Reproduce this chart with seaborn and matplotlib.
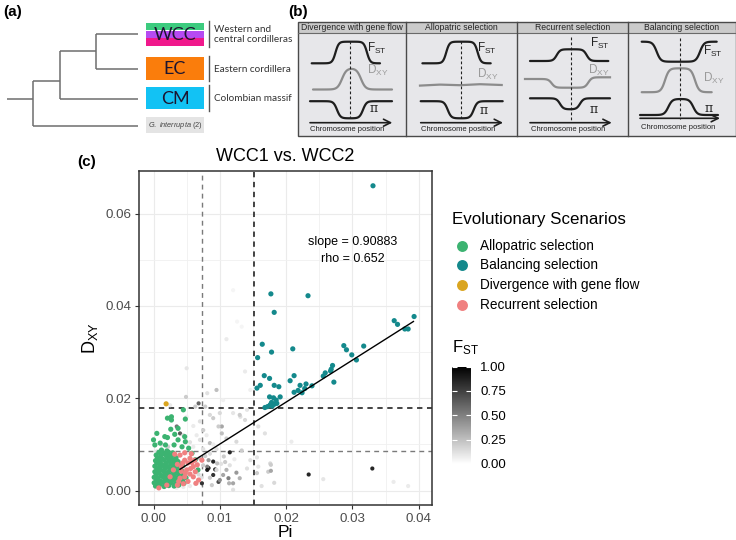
import numpy as np
import pandas as pd
import matplotlib
matplotlib.use("Agg")
import matplotlib.pyplot as plt
from matplotlib.colors import LinearSegmentedColormap, Normalize
from matplotlib.patches import Rectangle
from matplotlib.cm import ScalarMappable
import seaborn as sns

plt.rcParams['font.family'] = ['Liberation Sans', 'DejaVu Sans']
plt.rcParams['mathtext.fontset'] = 'custom'
plt.rcParams['mathtext.rm'] = 'Liberation Sans'
plt.rcParams['mathtext.it'] = 'Liberation Sans:italic'

# ---------------- data (panel c) ----------------
allo_pi = [0.0003, 0.0009, 0.0016, 0.0023, 0.0031, 0.0038,
           0.0001, 0.0007, 0.0013, 0.0019, 0.0026, 0.0033, 0.0040, 0.0046,
           0.0004, 0.0010, 0.0017, 0.0024, 0.0030, 0.0037, 0.0044,
           0.0001, 0.0007, 0.0014, 0.0020, 0.0027, 0.0034, 0.0041, 0.0049,
           0.0004, 0.0011, 0.0017, 0.0024, 0.0031, 0.0038, 0.0045,
           0.0002, 0.0008, 0.0015, 0.0022, 0.0029, 0.0036, 0.0043,
           0.0005, 0.0011, 0.0018, 0.0025, 0.0032, 0.0039,
           0.0002, 0.0009, 0.0015, 0.0022, 0.0029, 0.0036, 0.0044,
           0.0005, 0.0012, 0.0019, 0.0026, 0.0033, 0.0040,
           0.0003, 0.0009, 0.0016, 0.0023, 0.0030, 0.0037,
           0.0006, 0.0013, 0.0020, 0.0027, 0.0034,
           0.0004, 0.0011, 0.0018, 0.0025, 0.0032,
           0.0008, 0.0015, 0.0022, 0.0029,
           0.0012, 0.0020,
           0.0045, 0.0021, 0.0027, 0.0027, 0.0048, 0.0026, 0.0037, 0.0005,
           0.0017, 0.0021, 0.0032, 0.0047, 0.0037, 0.0048, 0.0000, 0.0010,
           0.0018, 0.0031, 0.0002, 0.0043, 0.0063, 0.0067, 0.0053, 0.0058]
allo_dxy = [0.0010, 0.0012, 0.0009, 0.0011, 0.0010, 0.0012,
            0.0017, 0.0015, 0.0018, 0.0016, 0.0017, 0.0015, 0.0018, 0.0016,
            0.0023, 0.0021, 0.0024, 0.0022, 0.0023, 0.0021, 0.0024,
            0.0029, 0.0027, 0.0030, 0.0028, 0.0029, 0.0027, 0.0030, 0.0028,
            0.0035, 0.0033, 0.0036, 0.0034, 0.0035, 0.0033, 0.0036,
            0.0041, 0.0039, 0.0042, 0.0040, 0.0041, 0.0039, 0.0042,
            0.0047, 0.0045, 0.0048, 0.0046, 0.0047, 0.0045,
            0.0053, 0.0051, 0.0054, 0.0052, 0.0053, 0.0051, 0.0054,
            0.0059, 0.0057, 0.0060, 0.0058, 0.0059, 0.0057,
            0.0065, 0.0063, 0.0066, 0.0064, 0.0065, 0.0063,
            0.0071, 0.0069, 0.0072, 0.0070, 0.0071,
            0.0077, 0.0075, 0.0078, 0.0076, 0.0077,
            0.0083, 0.0081, 0.0084, 0.0082,
            0.0088, 0.0086,
            0.0175, 0.0157, 0.0160, 0.0153, 0.0155, 0.0133, 0.0135, 0.0124,
            0.0117, 0.0115, 0.0122, 0.0117, 0.0110, 0.0106, 0.0110, 0.0103,
            0.0099, 0.0099, 0.0099, 0.0095, 0.0067, 0.0045, 0.0092, 0.0081]

recur_pi = [0.0032, 0.0040, 0.0047, 0.0055, 0.0047, 0.0058, 0.0042, 0.0050, 0.0030,
            0.0025, 0.0020, 0.0040, 0.0047, 0.0063, 0.0068, 0.0073, 0.0052, 0.0044,
            0.0060, 0.0066, 0.0055, 0.0060, 0.0052, 0.0045, 0.0036, 0.0008, 0.0057,
            0.0036, 0.0062, 0.0048, 0.0042, 0.0056, 0.0064, 0.0038]
recur_dxy = [0.0079, 0.0077, 0.0082, 0.0070, 0.0066, 0.0061, 0.0052, 0.0045, 0.0045,
             0.0030, 0.0012, 0.0027, 0.0030, 0.0041, 0.0023, 0.0066, 0.0060, 0.0060,
             0.0052, 0.0056, 0.0036, 0.0030, 0.0020, 0.0015, 0.0012, 0.0006, 0.0080,
             0.0057, 0.0066, 0.0038, 0.0042, 0.0048, 0.0016, 0.0020]

bal_pi = [0.0331, 0.0177, 0.0233, 0.0182, 0.0363, 0.0368, 0.0393, 0.0379, 0.0384,
          0.0164, 0.0178, 0.0210, 0.0157, 0.0287, 0.0291, 0.0317, 0.0299, 0.0306,
          0.0167, 0.0175, 0.0212, 0.0206, 0.0161, 0.0156, 0.0182, 0.0189, 0.0221,
          0.0230, 0.0239, 0.0212, 0.0218, 0.0224, 0.0228, 0.0256, 0.0259, 0.0267,
          0.0270, 0.0272, 0.0268, 0.0175, 0.0181, 0.0191, 0.0168, 0.0176, 0.0179,
          0.0182, 0.0186, 0.0172, 0.0185, 0.0178]
bal_dxy = [0.0660, 0.0426, 0.0422, 0.0386, 0.0368, 0.0360, 0.0377, 0.0350, 0.0350,
           0.0317, 0.0300, 0.0307, 0.0288, 0.0314, 0.0305, 0.0313, 0.0294, 0.0283,
           0.0249, 0.0243, 0.0249, 0.0238, 0.0228, 0.0222, 0.0228, 0.0225, 0.0228,
           0.0231, 0.0227, 0.0213, 0.0217, 0.0212, 0.0221, 0.0248, 0.0255, 0.0259,
           0.0271, 0.0235, 0.0263, 0.0203, 0.0201, 0.0203, 0.0180, 0.0186, 0.0183,
           0.0187, 0.0189, 0.0182, 0.0196, 0.0191]

div_pi = [0.0019]
div_dxy = [0.0188]

grey_pi = [0.0050, 0.0110, 0.0138, 0.0049, 0.0095, 0.0081, 0.0068, 0.0063, 0.0100, 0.0120,
           0.0131, 0.0141, 0.0090, 0.0103, 0.0075, 0.0035, 0.0040, 0.0115, 0.0133, 0.0156,
           0.0176, 0.0173, 0.0156, 0.0158, 0.0234, 0.0256, 0.0330, 0.0362, 0.0384, 0.0083,
           0.0090, 0.0098, 0.0113, 0.0120, 0.0110, 0.0125, 0.0073, 0.0081, 0.0096, 0.0106,
           0.0090, 0.0083, 0.0081, 0.0093, 0.0105, 0.0100, 0.0114, 0.0130, 0.0120, 0.0141,
           0.0146, 0.0130, 0.0138, 0.0098, 0.0103, 0.0110, 0.0125, 0.0085, 0.0078, 0.0085,
           0.0105, 0.0146, 0.0060, 0.0070, 0.0065, 0.0055, 0.0075, 0.0085, 0.0078, 0.0070,
           0.0075, 0.0068, 0.0072, 0.0063, 0.0055, 0.0045, 0.0035, 0.0085, 0.0088, 0.0095,
           0.0102, 0.0108, 0.0115, 0.0122, 0.0095, 0.0090, 0.0080, 0.0070, 0.0060, 0.0050,
           0.0045, 0.0025, 0.0022, 0.0012, 0.0005, 0.0120, 0.0133, 0.0126, 0.0177, 0.0177,
           0.0182, 0.0163, 0.0158, 0.0168, 0.0208]
grey_dxy = [0.0265, 0.0328, 0.0258, 0.0203, 0.0218, 0.0211, 0.0189, 0.0182, 0.0168, 0.0168,
            0.0160, 0.0175, 0.0157, 0.0139, 0.0131, 0.0139, 0.0124, 0.0083, 0.0087, 0.0072,
            0.0059, 0.0041, 0.0038, 0.0052, 0.0035, 0.0025, 0.0048, 0.0019, 0.0010, 0.0049,
            0.0034, 0.0019, 0.0027, 0.0016, 0.0045, 0.0039, 0.0016, 0.0052, 0.0059, 0.0074,
            0.0063, 0.0066, 0.0045, 0.0046, 0.0034, 0.0023, 0.0016, 0.0027, 0.0002, 0.0048,
            0.0066, 0.0164, 0.0153, 0.0139, 0.0124, 0.0113, 0.0106, 0.0103, 0.0182, 0.0164,
            0.0196, 0.0218, 0.0095, 0.0110, 0.0120, 0.0105, 0.0090, 0.0080, 0.0075, 0.0070,
            0.0055, 0.0035, 0.0028, 0.0015, 0.0010, 0.0008, 0.0006, 0.0028, 0.0012, 0.0045,
            0.0058, 0.0062, 0.0055, 0.0068, 0.0090, 0.0100, 0.0120, 0.0150, 0.0140, 0.0160,
            0.0120, 0.0185, 0.0095, 0.0100, 0.0085, 0.0434, 0.0355, 0.0366, 0.0043, 0.0056,
            0.0017, 0.0010, 0.0139, 0.0124, 0.0106]
grey_fst = [0.10, 0.08, 0.08, 0.20, 0.25, 0.12, 0.60, 0.20, 0.15, 0.10,
            0.12, 0.10, 0.20, 0.35, 0.20, 0.55, 0.65, 0.85, 0.20, 0.10,
            0.15, 0.20, 0.20, 0.10, 0.85, 0.10, 0.85, 0.08, 0.08, 0.85,
            0.80, 0.70, 0.50, 0.35, 0.30, 0.40, 0.80, 0.50, 0.25, 0.20,
            0.85, 0.40, 0.90, 0.85, 0.35, 0.45, 0.30, 0.30, 0.12, 0.12,
            0.12, 0.20, 0.15, 0.20, 0.25, 0.20, 0.15, 0.25, 0.20, 0.15,
            0.06, 0.06, 0.08, 0.12, 0.08, 0.12, 0.12, 0.15, 0.20, 0.25,
            0.20, 0.15, 0.12, 0.12, 0.08, 0.08, 0.06, 0.20, 0.20, 0.15,
            0.12, 0.20, 0.12, 0.08, 0.12, 0.08, 0.08, 0.12, 0.08, 0.06,
            0.15, 0.08, 0.20, 0.15, 0.12, 0.04, 0.04, 0.04, 0.35, 0.20,
            0.15, 0.12, 0.12, 0.12, 0.08]

scenarios = ["Allopatric selection", "Balancing selection",
             "Divergence with gene flow", "Recurrent selection"]
scenario_colors = ["#3CB371", "#14898C", "#DAA520", "#F08080"]

reg_slope = 0.90883
reg_intercept = 0.0010
reg_x = [0.0040, 0.0392]
rho = 0.652

grey_vline, black_vline = 0.00727, 0.01516
grey_hline, black_hline = 0.0086, 0.01797

x_ticks = [0.00, 0.01, 0.02, 0.03, 0.04]
y_ticks = [0.00, 0.02, 0.04, 0.06]
fst_ticks = [0.00, 0.25, 0.50, 0.75, 1.00]

# panel a / b text
clades = ["WCC", "EC", "CM"]
clade_desc = ["Western and\ncentral cordilleras", "Eastern cordillera", "Colombian massif"]
scen_titles = ["Divergence with gene flow", "Allopatric selection",
               "Recurrent selection", "Balancing selection"]

# ---------------- figure ----------------
W, H = 736, 540
fig = plt.figure(figsize=(W / 100, H / 100), dpi=100)
ov = fig.add_axes([0, 0, 1, 1])
ov.set_xlim(0, W)
ov.set_ylim(H, 0)
ov.axis('off')

# panel labels
ov.text(3, 12, "(a)", fontsize=11, fontweight='bold', va='center', ha='left')
ov.text(288, 12, "(b)", fontsize=11, fontweight='bold', va='center', ha='left')
ov.text(77, 162, "(c)", fontsize=11, fontweight='bold', va='center', ha='left')

# ---- panel a: tree ----
tc = '#6e6e6e'
segs = [((7, 99), (32.7, 99)), ((32.7, 81), (32.7, 126)), ((32.7, 126), (138, 126)),
        ((32.7, 81), (60.3, 81)), ((60.3, 51), (60.3, 98.7)), ((60.3, 98.7), (138, 98.7)),
        ((60.3, 51), (96, 51)), ((96, 34), (96, 69.3)), ((96, 34), (138, 34)),
        ((96, 69.3), (138, 69.3))]
for (x0, y0), (x1, y1) in segs:
    ov.plot([x0, x1], [y0, y1], color=tc, lw=1.1, solid_capstyle='butt')

bx0, bw = 146, 58
ov.add_patch(Rectangle((bx0, 23.3), bw, 7.2, color='#3CCB7E', lw=0))
ov.add_patch(Rectangle((bx0, 30.5), bw, 7.6, color='#B64AF2', lw=0))
ov.add_patch(Rectangle((bx0, 38.1), bw, 7.6, color='#F0188C', lw=0))
ov.add_patch(Rectangle((bx0, 57.3), bw, 22.7, color='#FA7D0C', lw=0))
ov.add_patch(Rectangle((bx0, 87.3), bw, 22.0, color='#12C2F4', lw=0))
ov.add_patch(Rectangle((bx0, 117.3), bw, 16.0, color='#E4E4E4', lw=0))
for lab, yc in zip(clades, [34.5, 68.8, 98.5]):
    ov.text(bx0 + bw / 2, yc, lab, fontsize=13, family=['Lato', 'DejaVu Sans'],
            color='#1c1530', ha='center', va='center')
ov.text(bx0 + bw / 2, 125.5, r"$\mathit{G.\ interrupta}$ (2)", fontsize=5.3,
        color='#444444', ha='center', va='center')
for (y0, y1) in [(21, 46.7), (56, 81), (85, 110.7)]:
    ov.plot([209.3, 209.3], [y0, y1], color='#555555', lw=1.0)
for txt, yc in zip(clade_desc, [34.5, 69.5, 98.5]):
    ov.text(214.3, yc, txt, fontsize=7.2, family=['Lato', 'DejaVu Sans'],
            color='#333333', ha='left', va='center', linespacing=1.15)

# ---- panel b: schematics ----
px_edges = [298.3, 406.0, 516.7, 628.3, 735.5]
top, head, bot = 21.7, 33.3, 136.0
for i in range(4):
    x0, x1 = px_edges[i], px_edges[i + 1]
    ov.add_patch(Rectangle((x0, head), x1 - x0, bot - head, facecolor='#E7E7EA',
                           edgecolor='none'))
    ov.add_patch(Rectangle((x0, top), x1 - x0, head - top, facecolor='#CBCBCB',
                           edgecolor='none'))
    ov.text((x0 + x1) / 2, 27.7, scen_titles[i], fontsize=6.2,
            color='#222222', ha='center', va='center')
ov.add_patch(Rectangle((px_edges[0], top), px_edges[-1] - px_edges[0], bot - top,
                       facecolor='none', edgecolor='#4a4a4a', lw=1.0))
ov.plot([px_edges[0], px_edges[-1]], [head, head], color='#6a6a6a', lw=0.8)
for xe in px_edges[1:-1]:
    ov.plot([xe, xe], [top, bot], color='#4a4a4a', lw=1.0)


def plateau(x, a, b, w, base, peak):
    return base + (peak - base) * 0.5 * (np.tanh((x - a) / w) - np.tanh((x - b) / w))


def curve(x0, x1, a, b, w, base, peak, color, lw=1.6):
    xs = np.linspace(x0, x1, 120)
    ov.plot(xs, plateau(xs, a, b, w, base, peak), color=color, lw=lw,
            solid_capstyle='round')


blk, gry = '#1e1e1e', '#8c8c8c'
# panel 1
curve(311.7, 380, 335.5, 367, 3.2, 63.3, 41.7, blk)
curve(313, 392, 342, 361, 4.5, 89.5, 68.3, gry)
curve(310, 392, 337, 363, 3.5, 101.2, 118.3, blk)
# panel 2
sh = 110.7
curve(311.7 + sh, 380 + sh, 335.5 + sh, 367 + sh, 3.2, 63.3, 41.7, blk)
xs = np.linspace(420, 501.7, 60)
ov.plot(xs, np.interp(xs, [420, 440, 460, 480, 501.7], [85.6, 84.6, 85.2, 84.2, 85.0]),
        color=gry, lw=1.6)
curve(310 + sh, 392 + sh, 337 + sh, 363 + sh, 3.5, 101.2, 118.3, blk)
# panel 3
curve(530, 608.3, 556.7, 586.7, 3.5, 61, 49.3, blk)
xs = np.linspace(525, 610, 120)
ov.plot(xs, 79 + 8.7 * 0.5 * (1 + np.tanh((xs - 551.7) / 3.5))
        - 10.4 * 0.5 * (1 + np.tanh((xs - 588.3) / 3.5)), color=gry, lw=1.6)
curve(530, 610, 560, 580, 3.5, 98.3, 109.3, blk)
# panel 4
curve(641.7, 716.7, 656.7, 700, 4, 41.7, 61.7, blk)
curve(641.7, 711.7, 665, 695, 4, 92.2, 68.3, gry)
curve(640, 718, 668.3, 693.3, 4, 115, 99, blk)

for xd, (ya, yb) in zip([350, 460.7, 571, 680], [(41, 118), (41, 118), (37, 120), (38, 119)]):
    ov.plot([xd, xd], [ya, yb], color='#222222', lw=0.8, ls=(0, (2.5, 2)))

arrows = [(310, 392.3, 122.7), (420.7, 503, 122.7), (530, 611.7, 122.7), (640, 720, 118.3)]
for xa, xb, ya in arrows:
    ov.annotate('', xy=(xb, ya), xytext=(xa, ya),
                arrowprops=dict(arrowstyle='->,head_length=0.5,head_width=0.25',
                                color='#1e1e1e', lw=1.2, shrinkA=0, shrinkB=0))
for xa, ya in [(310.5, 129.6), (421, 129.6), (531, 129.6), (641, 127.3)]:
    ov.text(xa, ya, "Chromosome position", fontsize=5.5, color='#222222',
            ha='left', va='center')

fst_pos = [(366.7, 48.3), (477, 48.3), (590, 43.3), (703.3, 51.7)]
dxy_pos = [(366.7, 70), (477, 74), (588.3, 70.7), (703, 78.3)]
pi_pos = [(370, 108.3), (480, 110), (590, 109.3), (705, 108.3)]
for (fx, fy), (dx, dy), (qx, qy) in zip(fst_pos, dxy_pos, pi_pos):
    ov.text(fx, fy, r"F$_\mathregular{ST}$", fontsize=8.5, color='#222222',
            ha='left', va='center')
    ov.text(dx, dy, r"D$_\mathregular{XY}$", fontsize=8.5, color='#9a9a9a',
            ha='left', va='center')
    ov.text(qx, qy, "π", fontsize=9, family=['DejaVu Serif'], color='#222222',
            ha='left', va='center')

# ---------------- panel c ----------------
ax = fig.add_axes([139 / W, 1 - 505 / H, (432 - 139) / W, (505 - 171) / H])
ax.set_xlim(-0.00219, 0.0420)
ax.set_ylim(-0.0031, 0.0692)
ax.set_axisbelow(True)
ax.set_xticks(x_ticks)
ax.set_xticklabels([f"{v:.2f}" for v in x_ticks])
ax.set_yticks(y_ticks)
ax.set_yticklabels([f"{v:.2f}" for v in y_ticks])
ax.set_xticks([0.005, 0.015, 0.025, 0.035], minor=True)
ax.set_yticks([0.01, 0.03, 0.05], minor=True)
ax.grid(True, which='major', color='#EBEBEB', lw=0.8)
ax.grid(True, which='minor', color='#F0F0F0', lw=0.6)
ax.tick_params(which='minor', length=0)
ax.tick_params(which='major', length=3, width=0.8, color='#333333',
               labelsize=9.6, labelcolor='#4D4D4D', pad=2.5)
for s in ax.spines.values():
    s.set_color('#333333')
    s.set_linewidth(1.1)

ax.axvline(grey_vline, color='#7a7a7a', lw=1.0, ls=(0, (3.5, 3)), zorder=1.5)
ax.axhline(grey_hline, color='#7a7a7a', lw=1.0, ls=(0, (3.5, 3)), zorder=1.5)
ax.axvline(black_vline, color='#111111', lw=1.1, ls=(0, (3.5, 3)), zorder=1.5)
ax.axhline(black_hline, color='#111111', lw=1.1, ls=(0, (3.5, 3)), zorder=1.5)

fst_cmap = LinearSegmentedColormap.from_list('fst', ['#FFFFFF', '#000000'])
grey_df = pd.DataFrame({'Pi': grey_pi, 'Dxy': grey_dxy, 'Fst': grey_fst})
sns.scatterplot(data=grey_df, x='Pi', y='Dxy', hue='Fst', palette=fst_cmap,
                hue_norm=(0, 1), s=9, linewidth=0, legend=False, ax=ax, zorder=2)

pts = pd.DataFrame({
    'Pi': allo_pi + recur_pi + bal_pi + div_pi,
    'Dxy': allo_dxy + recur_dxy + bal_dxy + div_dxy,
    'Scenario': [scenarios[0]] * len(allo_pi) + [scenarios[3]] * len(recur_pi)
                + [scenarios[1]] * len(bal_pi) + [scenarios[2]] * len(div_pi),
})
sns.scatterplot(data=pts, x='Pi', y='Dxy', hue='Scenario',
                palette=dict(zip(scenarios, scenario_colors)), s=14, linewidth=0,
                legend=False, ax=ax, zorder=2.2)

reg_y = [reg_slope * v + reg_intercept for v in reg_x]
sns.lineplot(x=reg_x, y=reg_y, color='black', lw=1.0, ax=ax, zorder=3)

ax.text(0.0300, 0.0539, f"slope = {reg_slope}", fontsize=9, ha='center', va='center')
ax.text(0.0300, 0.0501, f"rho = {rho}", fontsize=9, ha='center', va='center')

ax.set_title("WCC1 vs. WCC2", fontsize=13, pad=7)
ax.set_xlabel("Pi", fontsize=12.5, labelpad=0)
ax.set_ylabel(r"D$_\mathregular{XY}$", fontsize=13, labelpad=4)

# legend (scenarios)
ov.text(452, 219.3, "Evolutionary Scenarios", fontsize=12.2, ha='left', va='center')
for i, (lab, col) in enumerate(zip(scenarios, scenario_colors)):
    yy = 245.7 + i * 19.65
    ov.scatter([461.5], [yy], s=62, color=col, linewidth=0)
    ov.text(480, yy, lab, fontsize=9.8, ha='left', va='center')

# Fst colorbar
ov.text(452, 348, r"F$_\mathregular{ST}$", fontsize=12, ha='left', va='center')
cax = fig.add_axes([451.7 / W, 1 - 464 / H, 19.3 / W, 97.5 / H])
cb = fig.colorbar(ScalarMappable(norm=Normalize(0, 1), cmap=fst_cmap), cax=cax)
cb.set_ticks(fst_ticks)
cb.set_ticklabels([f"{v:.2f}" for v in fst_ticks])
cb.outline.set_visible(False)
cax.tick_params(axis='y', direction='in', length=3.5, width=0.8, color='white',
                labelcolor='black', labelsize=9.5, left=True, right=True, pad=6.5)

fig.savefig("out.png", dpi=100)
